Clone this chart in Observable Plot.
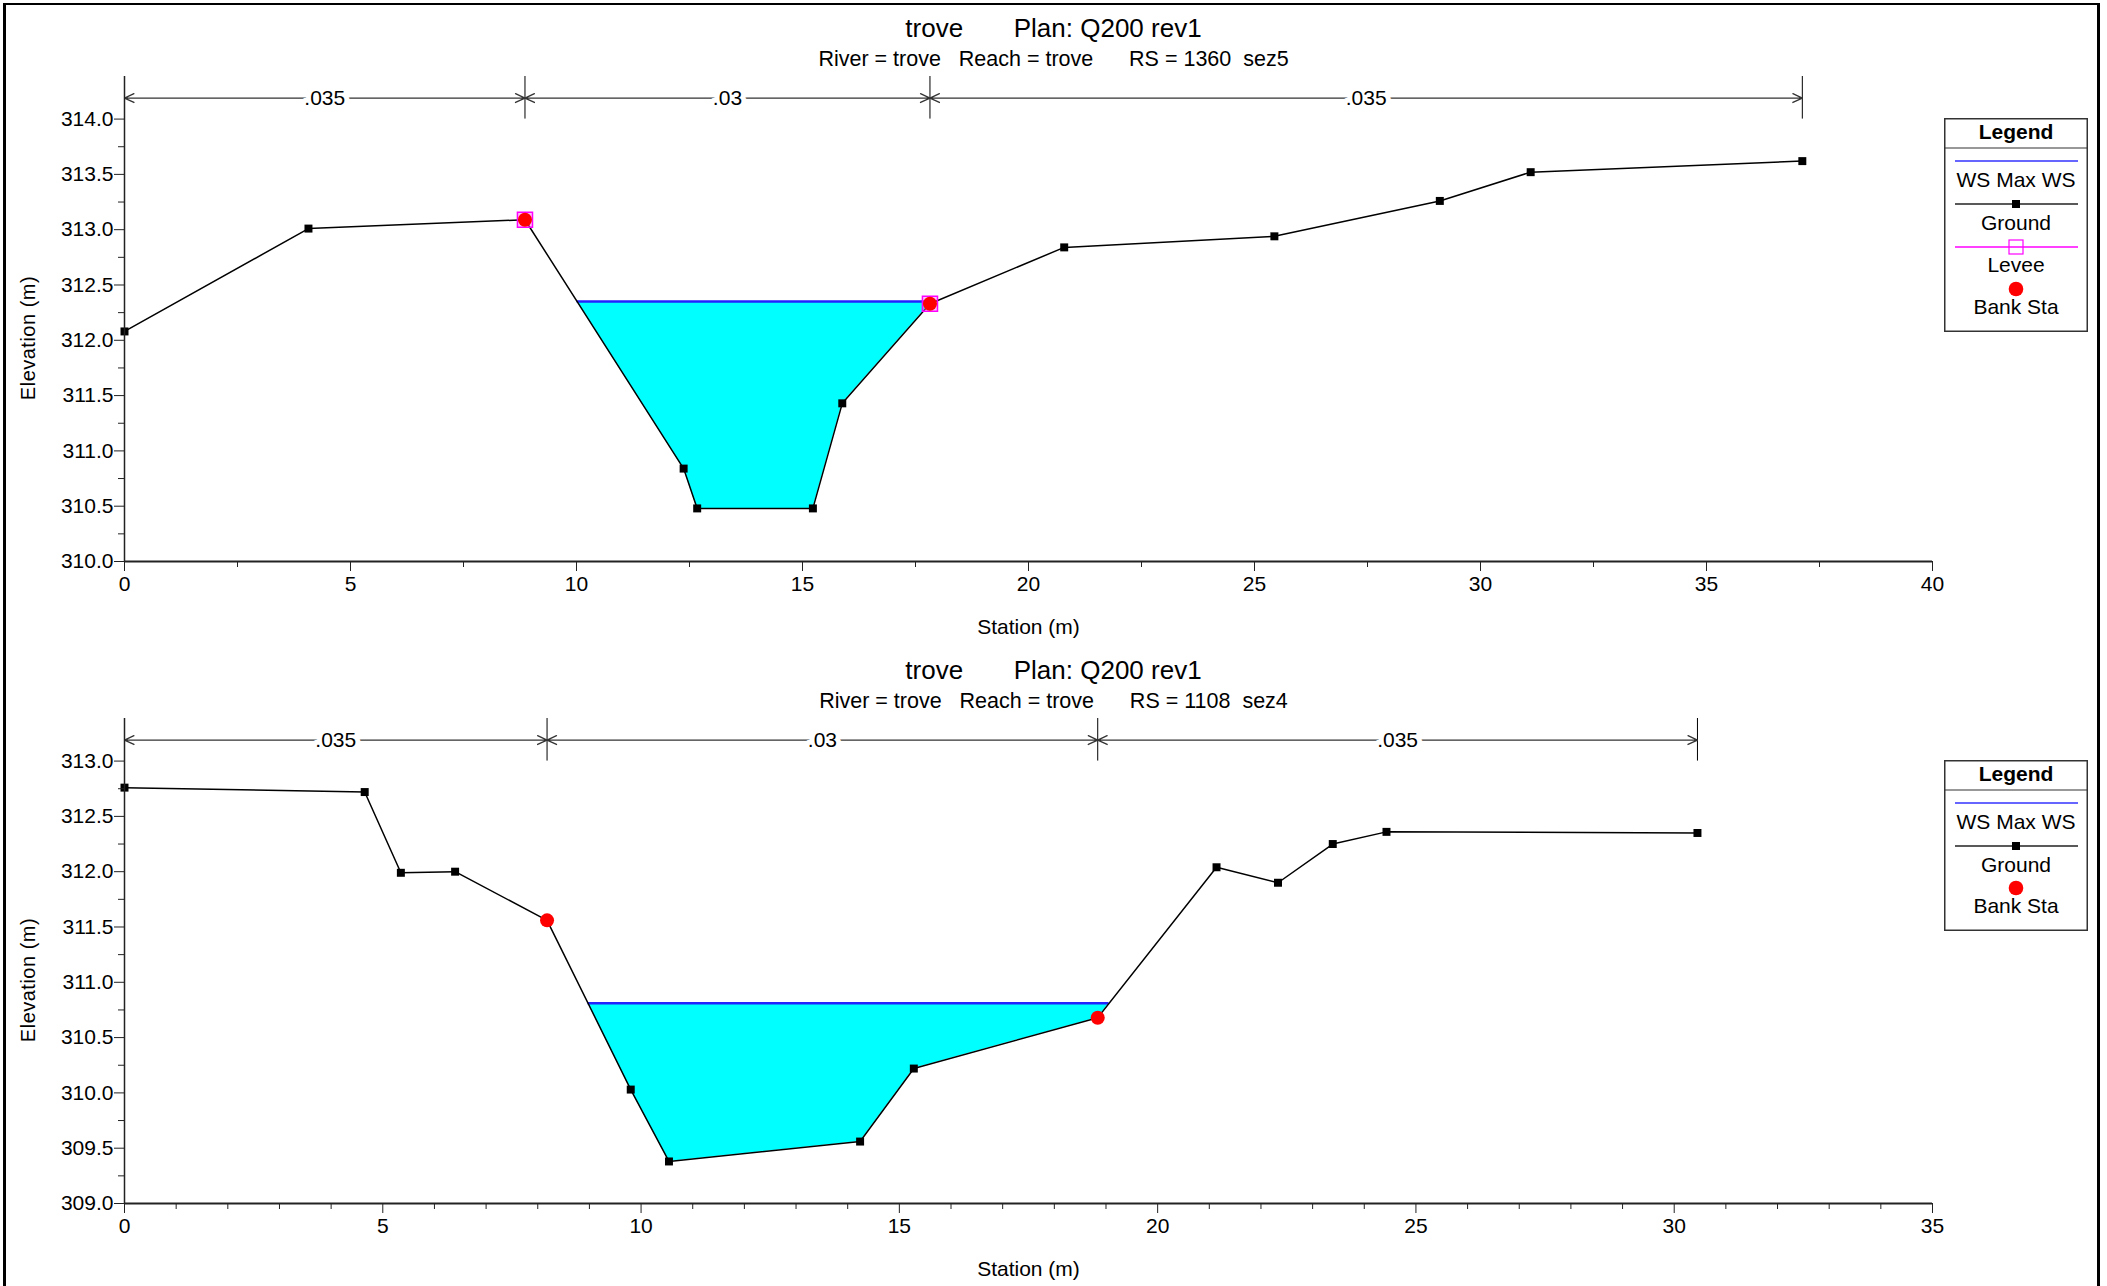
<!DOCTYPE html>
<html><head><meta charset="utf-8">
<script src="https://cdn.jsdelivr.net/npm/d3@7"></script>
<script src="https://cdn.jsdelivr.net/npm/@observablehq/plot@0.6"></script>
<style>
body{margin:0;background:#fff;font-family:"Liberation Sans",Arial,sans-serif;}
#root{position:relative;width:2107px;height:1286px;overflow:hidden;background:#fff;}
#frame{position:absolute;left:3px;top:3px;width:2097px;height:1400px;border:3px solid #000;border-top-width:2px;box-sizing:border-box;}
.title{position:absolute;left:0;width:2107px;text-align:center;white-space:pre;font-size:26px;line-height:26px;color:#000;}
.sub{position:absolute;left:0;width:2107px;text-align:center;white-space:pre;font-size:21.5px;line-height:21.5px;color:#000;}
.ylab{position:absolute;left:28px;white-space:pre;font-size:20px;line-height:20px;letter-spacing:0.5px;color:#000;transform:translate(-50%,-50%) rotate(-90deg);}
.plotwrap{position:absolute;left:0;}
.legend{position:absolute;}
</style>
</head><body>
<div id="root"><div id="frame"></div></div>
<script>
// ---------- data: upper section (RS 1360 sez5) ----------
const stationA = [0, 4.07, 8.86, 12.37, 12.67, 15.23, 15.88, 17.82, 20.79, 25.44, 29.10, 31.11, 37.12];
const elevA    = [312.08, 313.01, 313.09, 310.84, 310.48, 310.48, 311.43, 312.33, 312.84, 312.94, 313.26, 313.52, 313.62];
const bankA    = [8.86, 17.82];
const leveeA   = [8.86, 17.82];
const wsA      = 312.35;
const nValA    = [".035", ".03", ".035"];
const nBoundA  = [0, 8.86, 17.82, 37.12];
const xTickA   = [0, 5, 10, 15, 20, 25, 30, 35, 40];
const xMinorA  = [2.5, 7.5, 12.5, 17.5, 22.5, 27.5, 32.5, 37.5];
const yTickA   = [310.0, 310.5, 311.0, 311.5, 312.0, 312.5, 313.0, 313.5, 314.0];
const yMinorA  = [310.25, 310.75, 311.25, 311.75, 312.25, 312.75, 313.25, 313.75];

// ---------- data: lower section (RS 1108 sez4) ----------
const stationB = [0, 4.65, 5.35, 6.40, 8.18, 9.80, 10.54, 14.24, 15.28, 18.84, 21.14, 22.33, 23.39, 24.43, 30.45];
const elevB    = [312.76, 312.72, 311.99, 312.00, 311.56, 310.03, 309.38, 309.56, 310.22, 310.68, 312.04, 311.90, 312.25, 312.36, 312.35];
const bankB    = [8.18, 18.84];
const leveeB   = [];
const wsB      = 310.81;
const nValB    = [".035", ".03", ".035"];
const nBoundB  = [0, 8.18, 18.84, 30.45];
const xTickB   = [0, 5, 10, 15, 20, 25, 30, 35];
const xMinorB  = [1,2,3,4,6,7,8,9,11,12,13,14,16,17,18,19,21,22,23,24,26,27,28,29,31,32,33,34];
const yTickB   = [309.0, 309.5, 310.0, 310.5, 311.0, 311.5, 312.0, 312.5, 313.0];
const yMinorB  = [309.25, 309.75, 310.25, 310.75, 311.25, 311.75, 312.25, 312.75];

const titleText = "trove       Plan: Q200 rev1";
const subA = "River = trove   Reach = trove      RS = 1360  sez5";
const subB = "River = trove   Reach = trove      RS = 1108  sez4";
const yLabel = "Elevation (m)";
const xLabel = "Station (m)";

const FONT = "Liberation Sans, Arial, Helvetica, sans-serif";

function wetRegion(xs, ys, ws) {
  const i0 = d3.minIndex(ys);
  let l = i0; while (l > 0 && ys[l-1] < ws) l--;
  let r = i0; while (r < ys.length-1 && ys[r+1] < ws) r++;
  const cross = (a, b) => xs[a] + (ws - ys[a]) * (xs[b]-xs[a]) / (ys[b]-ys[a]);
  const pts = [{x: cross(l-1, l), g: ws, ws}];
  for (let i = l; i <= r; i++) pts.push({x: xs[i], g: ys[i], ws});
  pts.push({x: cross(r, r+1), g: ws, ws});
  return pts;
}

function makePanel(o) {
  const yMin = o.yTicks[0], yMax = o.yTicks[o.yTicks.length-1];
  const yTop = yMax + 0.385, bracketY = yMax + 0.19;
  const xMax = o.xTicks[o.xTicks.length-1];
  const ground = o.xs.map((x, i) => ({x, y: o.ys[i]}));
  const findY = s => o.ys[o.xs.indexOf(s)];
  const banks = o.banks.map(x => ({x, y: findY(x)}));
  const levees = o.levees.map(x => ({x, y: findY(x)}));
  const wet = wetRegion(o.xs, o.ys, o.ws);
  const wsLine = [{x1: wet[0].x, x2: wet[wet.length-1].x, y: o.ws}];
  const arrows = [], labels = [];
  for (let i = 0; i < o.nVals.length; i++) {
    const a = o.nBounds[i], b = o.nBounds[i+1], m = (a+b)/2;
    arrows.push({x1: m, x2: a}, {x1: m, x2: b});
    labels.push({x: m, text: o.nVals[i]});
  }
  return Plot.plot({
    width: 2107, height: 575,
    marginLeft: 124, marginRight: 175, marginTop: 6, marginBottom: 84,
    x: {domain: [0, xMax]},
    y: {domain: [yMin, yTop]},
    style: {fontFamily: FONT, fontSize: "21px", color: "#000", background: "transparent", overflow: "visible"},
    marks: [
      Plot.areaY(wet, {x: "x", y1: "g", y2: "ws", fill: "#00ffff"}),
      Plot.ruleY(wsLine, {x1: "x1", x2: "x2", y: "y", stroke: "#2222ff", strokeWidth: 2.5}),
      Plot.lineY(ground, {x: "x", y: "y", stroke: "#000", strokeWidth: 1.5}),
      Plot.dot(ground, {x: "x", y: "y", symbol: "square", r: 4.5, fill: "#000", stroke: "none"}),
      Plot.dot(levees, {x: "x", y: "y", symbol: "square", r: 8.5, fill: "#ff66ff", fillOpacity: 0.4, stroke: "#ff00ff", strokeWidth: 1.5}),
      Plot.dot(banks, {x: "x", y: "y", r: 7, fill: "#ff0000", stroke: "none"}),
      // n-value bracket
      Plot.ruleX(o.nBounds, {x: d => d, y1: () => yMax, y2: () => yTop, stroke: "#000", strokeWidth: 1}),
      Plot.arrow(arrows, {x1: "x1", x2: "x2", y1: () => bracketY, y2: () => bracketY, stroke: "#333", strokeWidth: 1.3, headAngle: 50, headLength: 12}),
      Plot.text(labels, {x: "x", y: () => bracketY, text: "text", fill: "#000", stroke: "#fff", strokeWidth: 10, fontSize: 21}),
      // axis lines
      Plot.ruleY([yMin], {y: d => d, x1: () => 0, x2: () => xMax, stroke: "#222", strokeWidth: 2}),
      Plot.ruleX([0], {x: d => d, y1: () => yMin, y2: () => yTop, stroke: "#222", strokeWidth: 1.5}),
      // axes
      Plot.axisX({ticks: o.xTicks, tickSize: 10, tickPadding: 5, tickFormat: d => String(d), label: xLabel, labelAnchor: "center", labelOffset: 72, labelArrow: "none", stroke: "#222"}),
      Plot.axisX({ticks: o.xMinor, tickSize: 6, tickFormat: () => "", label: null, stroke: "#222"}),
      Plot.axisY({ticks: o.yTicks, tickSize: 10, tickPadding: 1, tickFormat: d3.format(".1f"), label: null, stroke: "#222"}),
      Plot.axisY({ticks: o.yMinor, tickSize: 6, tickFormat: () => "", label: null, stroke: "#222"})
    ]
  });
}

function legendSVG(items) {
  const W = 144;
  let y = 30, body = "";
  const mid = W/2;
  for (const it of items) {
    if (it === "ws") {
      body += `<line x1="11" x2="134" y1="${y+13}" y2="${y+13}" stroke="#3333ff" stroke-width="1.5"/>`;
      body += `<text x="${mid}" y="${y+32}" dy="0.35em" text-anchor="middle">WS Max WS</text>`;
    } else if (it === "ground") {
      body += `<line x1="11" x2="134" y1="${y+13}" y2="${y+13}" stroke="#222" stroke-width="1.5"/>`;
      body += `<rect x="${mid-4}" y="${y+9}" width="8" height="8" fill="#000"/>`;
      body += `<text x="${mid}" y="${y+32}" dy="0.35em" text-anchor="middle">Ground</text>`;
    } else if (it === "levee") {
      body += `<line x1="11" x2="134" y1="${y+13}" y2="${y+13}" stroke="#ff00ff" stroke-width="1.5"/>`;
      body += `<rect x="${mid-7}" y="${y+6}" width="14" height="14" fill="none" stroke="#ff00ff" stroke-width="1.2"/>`;
      body += `<text x="${mid}" y="${y+31}" dy="0.35em" text-anchor="middle">Levee</text>`;
    } else if (it === "bank") {
      body += `<circle cx="${mid}" cy="${y+12}" r="7.3" fill="#ff0000"/>`;
      body += `<text x="${mid}" y="${y+30}" dy="0.35em" text-anchor="middle">Bank Sta</text>`;
    }
    y += 43;
  }
  const H = y + 12;
  return `<svg width="${W}" height="${H}" style="font-family:${FONT};font-size:21px;display:block">
    <rect x="0.75" y="0.75" width="${W-1.5}" height="${H-1.5}" fill="#fff" stroke="#333" stroke-width="1.5"/>
    <text x="${mid}" y="14" dy="0.35em" text-anchor="middle" font-weight="bold">Legend</text>
    <line x1="0" x2="${W}" y1="30" y2="30" stroke="#333" stroke-width="1.2"/>
    ${body}</svg>`;
}

const root = document.getElementById("root");
function addPanel(offset, sub, opts, legendItems) {
  const t = document.createElement("div"); t.className = "title"; t.style.top = (14.7 + offset) + "px"; t.textContent = titleText; root.appendChild(t);
  const s = document.createElement("div"); s.className = "sub"; s.style.top = (48.5 + offset) + "px"; s.textContent = sub; root.appendChild(s);
  const w = document.createElement("div"); w.className = "plotwrap"; w.style.top = (70 + offset) + "px";
  w.appendChild(makePanel(opts)); root.appendChild(w);
  const yl = document.createElement("div"); yl.className = "ylab"; yl.style.top = (338 + offset) + "px"; yl.textContent = yLabel; root.appendChild(yl);
  const l = document.createElement("div"); l.className = "legend"; l.style.left = "1944px"; l.style.top = (118 + offset) + "px";
  l.innerHTML = legendSVG(legendItems); root.appendChild(l);
}

addPanel(0, subA, {xs: stationA, ys: elevA, banks: bankA, levees: leveeA, ws: wsA, nVals: nValA, nBounds: nBoundA,
  xTicks: xTickA, xMinor: xMinorA, yTicks: yTickA, yMinor: yMinorA}, ["ws", "ground", "levee", "bank"]);
addPanel(642, subB, {xs: stationB, ys: elevB, banks: bankB, levees: leveeB, ws: wsB, nVals: nValB, nBounds: nBoundB,
  xTicks: xTickB, xMinor: xMinorB, yTicks: yTickB, yMinor: yMinorB}, ["ws", "ground", "bank"]);
</script>
</body></html>
